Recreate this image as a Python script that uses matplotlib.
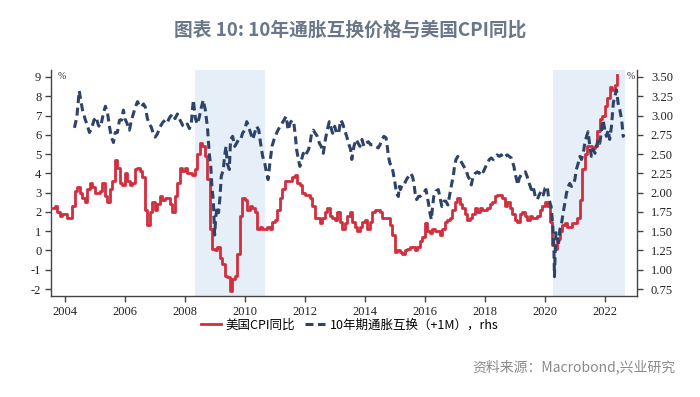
import matplotlib
matplotlib.use('Agg')
import matplotlib.pyplot as plt
import numpy as np


# US CPI yoy, monthly from Aug 2003 to Jun 2022
cpi_start = 2003 + 7 / 12
cpi_yoy = [
    2.2, 2.3, 2.0, 1.8, 1.9,
    1.9, 1.7, 1.7, 2.3, 3.1, 3.3, 3.0, 2.7, 2.5, 3.2, 3.5, 3.3,
    3.0, 3.0, 3.1, 3.5, 2.8, 2.5, 3.2, 3.6, 4.7, 4.3, 3.5, 3.4,
    4.0, 3.6, 3.4, 3.5, 4.2, 4.3, 4.1, 3.8, 2.1, 1.3, 2.0, 2.5,
    2.1, 2.4, 2.8, 2.6, 2.7, 2.7, 2.4, 2.0, 2.8, 3.5, 4.3, 4.1,
    4.3, 4.0, 4.0, 3.9, 4.2, 5.0, 5.6, 5.4, 4.9, 3.7, 1.1, 0.1,
    0.0, 0.2, -0.4, -0.7, -1.3, -1.4, -2.1, -1.5, -1.3, -0.2, 1.8, 2.7,
    2.6, 2.1, 2.3, 2.2, 2.0, 1.1, 1.2, 1.1, 1.1, 1.2, 1.1, 1.5,
    1.6, 2.1, 2.7, 3.2, 3.6, 3.6, 3.6, 3.8, 3.9, 3.5, 3.4, 3.0,
    2.9, 2.9, 2.7, 2.3, 1.7, 1.7, 1.4, 1.7, 2.0, 2.2, 1.8, 1.7,
    1.6, 2.0, 1.5, 1.1, 1.4, 1.8, 2.0, 1.5, 1.2, 1.0, 1.2, 1.5,
    1.6, 1.1, 1.5, 2.0, 2.1, 2.1, 2.0, 1.7, 1.7, 1.7, 1.3, 0.8,
    -0.1, 0.0, -0.1, -0.2, 0.0, 0.1, 0.2, 0.2, 0.0, 0.2, 0.5, 0.7,
    1.4, 1.0, 0.9, 1.1, 1.0, 1.0, 0.8, 1.1, 1.5, 1.6, 1.7, 2.1,
    2.5, 2.7, 2.4, 2.2, 1.9, 1.6, 1.7, 1.9, 2.2, 2.0, 2.2, 2.1,
    2.1, 2.2, 2.4, 2.5, 2.8, 2.9, 2.9, 2.7, 2.3, 2.5, 2.2, 1.9,
    1.6, 1.5, 1.9, 2.0, 1.8, 1.6, 1.8, 1.7, 1.7, 1.8, 2.1, 2.3,
    2.5, 2.3, 1.5, 0.3, 0.1, 0.6, 1.0, 1.3, 1.4, 1.2, 1.2, 1.4,
    1.4, 1.7, 2.6, 4.2, 5.0, 5.4, 5.4, 5.3, 5.4, 6.2, 6.8, 7.0,
    7.5, 7.9, 8.5, 8.3, 8.6, 9.1,
]

# 10y inflation swap (+1M), rhs
swap_t = [
    2004.33, 2004.41, 2004.49, 2004.54, 2004.60, 2004.68, 2004.76, 2004.83, 2004.90, 2004.98,
    2005.05, 2005.13, 2005.20, 2005.29, 2005.36, 2005.43, 2005.49, 2005.56, 2005.63, 2005.69,
    2005.76, 2005.83, 2005.90, 2005.96, 2006.01, 2006.09, 2006.16, 2006.23, 2006.29, 2006.36,
    2006.43, 2006.49, 2006.56, 2006.63, 2006.69, 2006.76, 2006.82, 2006.89, 2006.96, 2007.02,
    2007.09, 2007.18, 2007.27, 2007.35, 2007.42, 2007.51, 2007.60, 2007.68, 2007.76, 2007.85,
    2007.94, 2008.01, 2008.09, 2008.16, 2008.22, 2008.29, 2008.36, 2008.42, 2008.49, 2008.56,
    2008.62, 2008.69, 2008.76, 2008.82, 2008.87, 2008.91, 2008.96, 2009.00, 2009.04, 2009.09,
    2009.13, 2009.18, 2009.22, 2009.29, 2009.33, 2009.38, 2009.42, 2009.49, 2009.53, 2009.60,
    2009.67, 2009.73, 2009.80, 2009.87, 2009.93, 2010.00, 2010.07, 2010.13, 2010.20, 2010.27,
    2010.33, 2010.40, 2010.47, 2010.53, 2010.60, 2010.67, 2010.73, 2010.78, 2010.84, 2010.91,
    2010.98, 2011.04, 2011.11, 2011.18, 2011.31, 2011.38, 2011.45, 2011.51, 2011.58, 2011.64,
    2011.69, 2011.73, 2011.79, 2011.84, 2011.90, 2011.95, 2012.01, 2012.06, 2012.13, 2012.18,
    2012.23, 2012.29, 2012.35, 2012.42, 2012.49, 2012.55, 2012.62, 2012.69, 2012.75, 2012.82,
    2012.86, 2012.93, 2013.00, 2013.06, 2013.13, 2013.20, 2013.26, 2013.33, 2013.40, 2013.46,
    2013.53, 2013.57, 2013.64, 2013.71, 2013.78, 2013.84, 2013.91, 2013.97, 2014.04, 2014.12,
    2014.20, 2014.28, 2014.37, 2014.45, 2014.51, 2014.57, 2014.64, 2014.71, 2014.75, 2014.79,
    2014.84, 2014.91, 2014.95, 2015.01, 2015.06, 2015.12, 2015.15, 2015.19, 2015.26, 2015.33,
    2015.39, 2015.46, 2015.53, 2015.59, 2015.64, 2015.68, 2015.73, 2015.79, 2015.84, 2015.95,
    2016.04, 2016.12, 2016.17, 2016.22, 2016.26, 2016.30, 2016.37, 2016.45, 2016.50, 2016.57,
    2016.64, 2016.70, 2016.77, 2016.84, 2016.90, 2016.95, 2016.99, 2017.04, 2017.10, 2017.17,
    2017.24, 2017.30, 2017.37, 2017.44, 2017.50, 2017.55, 2017.61, 2017.68, 2017.75, 2017.81,
    2017.88, 2017.95, 2018.01, 2018.08, 2018.15, 2018.21, 2018.28, 2018.35, 2018.41, 2018.48,
    2018.55, 2018.61, 2018.68, 2018.75, 2018.81, 2018.88, 2018.92, 2018.97, 2019.01, 2019.06,
    2019.10, 2019.15, 2019.21, 2019.28, 2019.35, 2019.41, 2019.48, 2019.55, 2019.61, 2019.68,
    2019.75, 2019.81, 2019.88, 2019.95, 2020.01, 2020.08, 2020.12, 2020.17, 2020.21, 2020.26,
    2020.30, 2020.32, 2020.34, 2020.37, 2020.41, 2020.46, 2020.50, 2020.56, 2020.61, 2020.67,
    2020.72, 2020.78, 2020.83, 2020.89, 2020.94, 2021.00, 2021.05, 2021.11, 2021.17, 2021.22,
    2021.28, 2021.33, 2021.39, 2021.44, 2021.50, 2021.55, 2021.61, 2021.67, 2021.72, 2021.78,
    2021.83, 2021.89, 2021.94, 2022.00, 2022.05, 2022.11, 2022.16, 2022.22, 2022.28, 2022.33,
    2022.39, 2022.44, 2022.50, 2022.56, 2022.61, 2022.63,
]
swap_v = [
    2.84, 2.98, 3.32, 3.20, 3.07, 2.96, 2.87, 2.78, 2.83, 2.94,
    2.98, 2.87, 2.85, 3.02, 3.12, 3.04, 2.87, 2.72, 2.65, 2.78,
    2.78, 2.94, 2.94, 3.07, 2.96, 2.89, 2.81, 2.94, 3.02, 3.11,
    3.18, 3.13, 3.11, 3.15, 3.11, 2.96, 2.89, 2.85, 2.76, 2.72,
    2.76, 2.85, 2.91, 2.94, 2.91, 2.98, 3.02, 2.96, 3.02, 2.94,
    2.87, 2.85, 2.89, 2.83, 2.89, 3.20, 2.96, 2.89, 2.98, 3.11,
    3.20, 3.07, 2.85, 2.51, 2.34, 2.08, 1.87, 1.45, 1.69, 1.82,
    1.74, 1.95, 2.21, 2.30, 2.47, 2.60, 2.38, 2.30, 2.69, 2.73,
    2.60, 2.64, 2.69, 2.69, 2.77, 2.81, 2.92, 2.86, 2.77, 2.69,
    2.77, 2.86, 2.81, 2.64, 2.47, 2.38, 2.25, 2.17, 2.38, 2.60,
    2.69, 2.75, 2.81, 2.86, 2.94, 2.99, 2.81, 2.90, 2.94, 2.90,
    2.73, 2.56, 2.43, 2.34, 2.43, 2.51, 2.47, 2.51, 2.56, 2.64,
    2.77, 2.81, 2.77, 2.73, 2.64, 2.60, 2.51, 2.69, 2.81, 2.92,
    2.86, 2.77, 2.86, 2.77, 2.77, 2.94, 2.90, 2.81, 2.73, 2.64,
    2.56, 2.43, 2.60, 2.69, 2.64, 2.60, 2.69, 2.60, 2.64, 2.66,
    2.62, 2.62, 2.60, 2.58, 2.62, 2.69, 2.73, 2.71, 2.60, 2.47,
    2.38, 2.34, 2.25, 2.12, 1.99, 1.95, 2.08, 2.04, 2.12, 2.12,
    2.17, 2.21, 2.25, 2.21, 2.12, 1.99, 1.91, 1.95, 1.95, 1.99,
    2.04, 1.87, 1.74, 1.65, 1.82, 1.95, 2.02, 2.04, 1.95, 1.82,
    1.89, 1.89, 1.84, 1.99, 2.12, 2.21, 2.34, 2.43, 2.47, 2.43,
    2.38, 2.34, 2.30, 2.21, 2.17, 2.10, 2.21, 2.25, 2.27, 2.25,
    2.30, 2.27, 2.32, 2.38, 2.43, 2.45, 2.43, 2.47, 2.49, 2.47,
    2.49, 2.45, 2.47, 2.49, 2.47, 2.45, 2.40, 2.34, 2.25, 2.17,
    2.10, 2.19, 2.23, 2.25, 2.27, 2.21, 2.12, 2.04, 2.08, 1.95,
    1.91, 1.97, 2.02, 1.97, 2.06, 2.08, 1.95, 1.87, 1.82, 1.60,
    1.30, 0.91, 1.17, 1.48, 1.43, 1.35, 1.52, 1.61, 1.74, 1.87,
    1.99, 2.08, 2.12, 2.08, 2.10, 2.17, 2.30, 2.38, 2.47, 2.43,
    2.51, 2.64, 2.73, 2.79, 2.60, 2.47, 2.56, 2.51, 2.60, 2.69,
    2.64, 2.81, 2.94, 2.81, 2.73, 2.81, 2.69, 2.86, 3.16, 3.25,
    3.33, 3.16, 3.07, 2.94, 2.73, 2.75,
]

shade_spans = [(2008.35, 2010.68), (2020.28, 2022.66)]

RED = '#D12E3E'
NAVY = '#2D4368'
SHADE = '#E6EEF8'
AXC = '#444444'

plt.rcParams['font.family'] = ['Liberation Serif']
plt.rcParams['axes.unicode_minus'] = False
CJK = ['Noto Sans CJK SC', 'DejaVu Sans']

fig = plt.figure(figsize=(7, 3.97), dpi=100)
ax = fig.add_axes([0.0729, 0.2544, 0.8371, 0.5693])

for a, b in shade_spans:
    ax.axvspan(a, b, color=SHADE, lw=0, zorder=0)

cpi_t = cpi_start + np.arange(len(cpi_yoy)) / 12
l1, = ax.plot(cpi_t, cpi_yoy, drawstyle='steps-post', color=RED, lw=2.0,
              label='美国CPI同比', zorder=3)

ax2 = ax.twinx()
l2, = ax2.plot(swap_t, swap_v, color=NAVY, lw=2.2, dashes=(2.6, 1.5),
               label='10年期通胀互换（+1M），rhs', zorder=3)

ax.set_xlim(2003.55, 2023.07)
ax.set_ylim(-2.36, 9.36)
ax2.set_ylim(0.66, 3.59)
ax.set_xticks(range(2004, 2023, 2))
ax.set_yticks(range(-2, 10))
r_ticks = np.arange(0.75, 3.51, 0.25)
ax2.set_yticks(r_ticks)
ax2.set_yticklabels(['%.2f' % v for v in r_ticks])

for a in (ax, ax2):
    a.spines['top'].set_visible(False)
    for s in a.spines.values():
        s.set_color(AXC)
        s.set_linewidth(1.0)
ax2.spines['left'].set_visible(False)
ax2.spines['bottom'].set_visible(False)
ax.spines['right'].set_visible(False)

ax.tick_params(axis='y', length=4, width=1, color=AXC, pad=3, labelsize=9, labelcolor='#222222')
ax.tick_params(axis='x', length=4, width=1, color=AXC, pad=3, labelsize=9, labelcolor='#222222')
ax2.tick_params(axis='y', length=4, width=1, color=AXC, pad=6, labelsize=9, labelcolor='#222222')

ax.text(0.012, 0.97, '%', transform=ax.transAxes, fontsize=7, color='#333333', va='center')
ax2.text(0.983, 0.97, '%', transform=ax.transAxes, fontsize=7, color='#333333', va='center')

fig.legend(handles=[l1, l2], loc='center', bbox_to_anchor=(0.5, 1 - 325 / 397),
           ncol=2, frameon=False, handlelength=1.6, handletextpad=0.4,
           columnspacing=0.8, prop={'family': CJK, 'size': 9})

fig.text(0.5, 1 - 30 / 397, '图表 10: 10年通胀互换价格与美国CPI同比', ha='center', va='center',
         fontsize=13.5, color='#6A7789', family=CJK, weight='bold')
fig.text(675 / 700, 1 - 367 / 397, '资料来源：Macrobond,兴业研究', ha='right', va='center',
         fontsize=10, color='#8A8A8A', family=CJK)

fig.savefig('out.png', dpi=100)
